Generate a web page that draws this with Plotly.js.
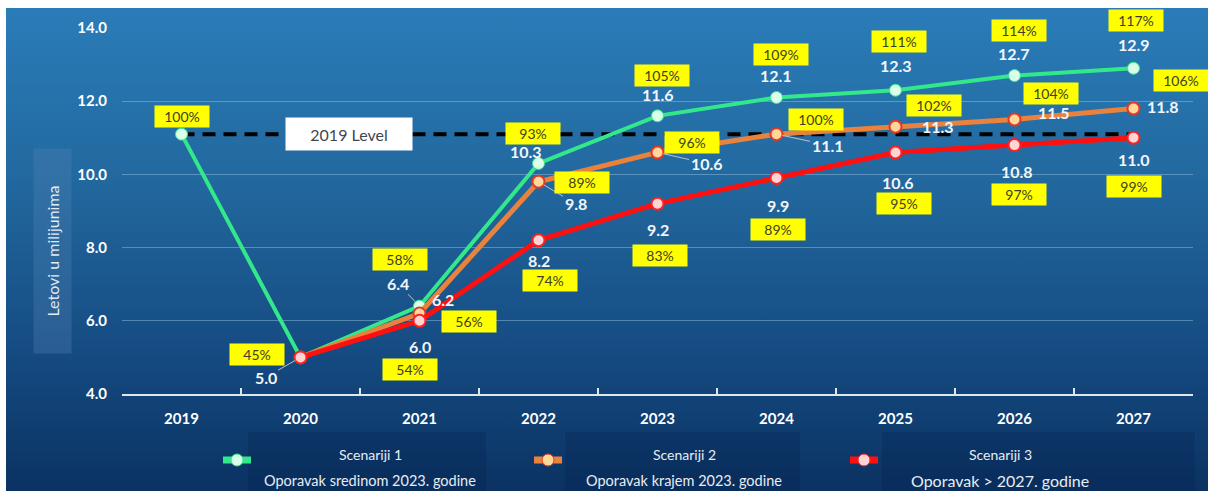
<!DOCTYPE html>
<html>
<head>
<meta charset="utf-8">
<script src="https://cdn.plot.ly/plotly-3.0.1.min.js"></script>
<style>
  html, body { margin:0; padding:0; background:#ffffff; }
  #wrap { position:relative; width:1208px; height:491px; background:#ffffff; overflow:hidden; }
  #bg { position:absolute; left:6px; top:8px; width:1202px; height:483px;
        background: linear-gradient(to bottom, #2a7cb8 0%, #22699f 35%, #154c83 70%, #0b3262 100%); }
  #chart { position:absolute; left:0; top:0; width:1208px; height:491px; }
</style>
</head>
<body>
<div id="wrap"><div id="bg"></div><div id="chart"></div></div>
<script>
// ---------------- data ----------------
const years = ['2019', '2020', '2021', '2022', '2023', '2024', '2025', '2026', '2027'];
const scen1 = [11.1, 5.0, 6.4, 10.3, 11.6, 12.1, 12.3, 12.7, 12.9];
const scen2 = [null, 5.0, 6.2, 9.8, 10.6, 11.1, 11.3, 11.5, 11.8];
const scen3 = [null, 5.0, 6.0, 8.2, 9.2, 9.9, 10.6, 10.8, 11.0];
const pct1 = [100, 45, 58, 93, 105, 109, 111, 114, 117];
const pct2 = [null, null, 56, 89, 96, 100, 102, 104, 106];
const pct3 = [null, null, 54, 74, 83, 89, 95, 97, 99];
const level2019 = 11.1;
const levelLabel = '2019 Level';
const yTicks = [4, 6, 8, 10, 12, 14];
const seriesNames = ['Scenariji 1', 'Scenariji 2', 'Scenariji 3'];
const seriesNotes = ['Oporavak sredinom 2023. godine', 'Oporavak krajem 2023. godine', 'Oporavak > 2027. godine'];
const yTitle = 'Letovi u milijunima';

// ---------------- label placement (pixel offsets, layout only) ----------------
// [dx, dy, leader]  dy positive = downwards
const valPos1 = [null, [-35, 20, true], [-22, -23, true], [-13, -12, false], [0, -21, false], [-1, -22, false], [0, -25, false], [-1, -22, false], [0, -24, false]];
const pctPos1 = [[0, -18], [-44, -3], [-20, -47], [-6, -30], [4, -40], [4, -43], [3, -49], [4, -45], [2, -48]];
const valPos2 = [null, null, [23, -14, false], [37, 22, true], [49, 11, true], [51, 11, true], [42, 0, false], [39, -7, false], [29, -2, false]];
const pctPos2 = [null, null, [49, 8], [43, 1], [34, -10], [39, -15], [38, -21], [36, -26], [47, -28]];
const valPos3 = [null, null, [0, 26, false], [0, 20, false], [0, 26, false], [1, 27, false], [2, 30, false], [2, 26, false], [0, 22, false]];
const pctPos3 = [null, null, [-10, 49], [11, 40], [2, 52], [1, 51], [8, 51], [4, 49], [0, 49]];

const colors = ['#33e88a', '#e8823c', '#ff1010'];
const markerFill = ['#d9ffe9', '#ffd79a', '#ffd4d4'];
const markerLine = ['#33e88a', '#e03a26', '#ff2020'];
const FONT = 'Lato, "Open Sans", sans-serif';

// plot area in pixels
const PL = 122, PR = 1193, PT = 28, PB = 394;
const fx = p => (p - PL) / (PR - PL);
const fy = p => (PB - p) / (PB - PT);

function lineTrace(vals, i) {
  return {
    x: years, y: vals, type: 'scatter', mode: 'lines+markers', name: seriesNames[i],
    line: { color: colors[i], width: i === 0 ? 4 : 5 },
    marker: { symbol: 'circle', size: 12, color: markerFill[i], line: { color: markerLine[i], width: i === 0 ? 1 : 2 } },
    connectgaps: false, hoverinfo: 'x+y', showlegend: false
  };
}

const traces = [
  { x: [years[0], years[years.length - 1]], y: [level2019, level2019], type: 'scatter', mode: 'lines',
    line: { color: '#000000', width: 4, dash: '13px,8px' }, hoverinfo: 'skip', showlegend: false },
  lineTrace(scen1, 0), lineTrace(scen2, 1), lineTrace(scen3, 2)
];

const annotations = [];
function addLabels(vals, pcts, vPos, pPos) {
  years.forEach((yr, k) => {
    const v = vals[k];
    if (v == null) return;
    const vp = vPos[k];
    if (vp) {
      const a = {
        x: k, y: v, xref: 'x', yref: 'y', text: '<b>' + v.toFixed(1) + '</b>',
        font: { family: FONT, size: 16, color: '#f2f6fa' },
        xanchor: 'center', yanchor: 'middle'
      };
      if (vp[2]) {
        Object.assign(a, { showarrow: true, ax: vp[0], ay: vp[1], arrowhead: 0, arrowwidth: 1, arrowcolor: '#b8c4cc', standoff: 6 });
      } else {
        Object.assign(a, { showarrow: false, xshift: vp[0], yshift: -vp[1] });
      }
      annotations.push(a);
    }
    const pp = pPos[k];
    if (pp && pcts[k] != null) {
      annotations.push({
        x: k, y: v, xref: 'x', yref: 'y', text: pcts[k] + '%', showarrow: false,
        xshift: pp[0], yshift: -pp[1], xanchor: 'center', yanchor: 'middle',
        bgcolor: '#ffff00', width: 54, height: 21, borderpad: 0,
        font: { family: FONT, size: 14, color: '#3e3e22' }
      });
    }
  });
}
addLabels(scen1, pct1, valPos1, pctPos1);
addLabels(scen2, pct2, valPos2, pctPos2);
addLabels(scen3, pct3, valPos3, pctPos3);

// 2019 level label
annotations.push({
  x: 1.41, y: level2019, xref: 'x', yref: 'y', text: levelLabel, showarrow: false,
  xanchor: 'center', yanchor: 'middle', bgcolor: '#ffffff', width: 124, height: 30,
  font: { family: FONT, size: 16, color: '#3f4650' }
});

// y axis title box
annotations.push({
  x: fx(52), y: fy(251), xref: 'paper', yref: 'paper', text: yTitle, showarrow: false,
  textangle: -90, xanchor: 'center', yanchor: 'middle', width: 202, height: 35,
  bgcolor: 'rgba(80,130,180,0.35)',
  font: { family: FONT, size: 16, color: '#e3ebf2' }
});

// custom legend
const shapes = [];
const legIcon = [237, 548, 864];
const legText = [370, 684, 1000];
const legPanel = [[248, 486], [565, 800], [882, 1195]];
seriesNames.forEach((nm, i) => {
  shapes.push({ type: 'rect', xref: 'paper', yref: 'paper', x0: fx(legPanel[i][0]), x1: fx(legPanel[i][1]), y0: fy(491), y1: fy(432),
    fillcolor: 'rgba(0,20,60,0.18)', line: { width: 0 }, layer: 'below' });
  shapes.push({ type: 'line', xref: 'paper', yref: 'paper', x0: fx(legIcon[i] - 14), x1: fx(legIcon[i] + 14), y0: fy(460), y1: fy(460),
    line: { color: colors[i], width: 7 } });
  shapes.push({ type: 'circle', xref: 'paper', yref: 'paper', x0: fx(legIcon[i] - 6), x1: fx(legIcon[i] + 6), y0: fy(466), y1: fy(454),
    fillcolor: markerFill[i], line: { color: markerLine[i], width: 1 } });
  annotations.push({ x: fx(legText[i]), y: fy(454), xref: 'paper', yref: 'paper', text: nm, showarrow: false,
    xanchor: 'center', yanchor: 'middle', font: { family: FONT, size: 14, color: '#e6edf3' } });
  annotations.push({ x: fx(legText[i]), y: fy(480), xref: 'paper', yref: 'paper', text: seriesNotes[i], showarrow: false,
    xanchor: 'center', yanchor: 'middle', font: { family: FONT, size: i === 2 ? 16 : 14.5, color: '#e6edf3' } });
});

const layout = {
  width: 1208, height: 491,
  margin: { l: PL, r: 1208 - PR, t: PT, b: 491 - PB, pad: 0 },
  paper_bgcolor: 'rgba(0,0,0,0)', plot_bgcolor: 'rgba(0,0,0,0)',
  showlegend: false,
  xaxis: {
    type: 'category', categoryorder: 'array', categoryarray: years, range: [-0.5, 8.5],
    showgrid: false, zeroline: false,
    showline: true, linecolor: '#dfe6ee', linewidth: 2,
    ticks: 'inside', tickson: 'boundaries', ticklen: 6, tickwidth: 2, tickcolor: '#dfe6ee',
    tickfont: { family: FONT, size: 15, color: '#ffffff', weight: 700 }, ticklabelstandoff: 10
  },
  yaxis: {
    range: [4, 14], tickvals: yTicks, ticktext: yTicks.map(v => v.toFixed(1)),
    showgrid: true, gridcolor: 'rgba(160,200,230,0.45)', gridwidth: 1, zeroline: false, showline: false,
    ticks: '', tickfont: { family: FONT, size: 15, color: '#ffffff', weight: 700 }, ticklabelstandoff: 14
  },
  annotations: annotations,
  shapes: shapes,
  font: { family: FONT }
};

Plotly.newPlot('chart', traces, layout, { displayModeBar: false, staticPlot: true });
</script>
</body>
</html>
